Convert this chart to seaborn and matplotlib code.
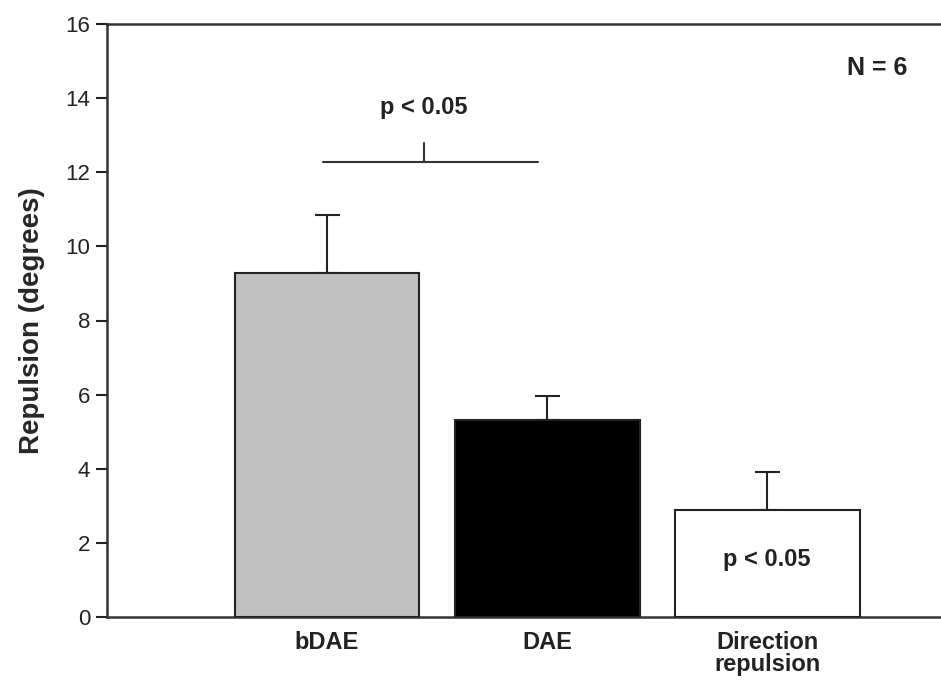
import numpy as np
import pandas as pd
import seaborn as sns
import matplotlib.pyplot as plt

# data
conditions = ["bDAE", "DAE", "Direction\nrepulsion"]
repulsion = [9.28, 5.32, 2.89]
sem = [1.57, 0.64, 1.02]
bar_colors = ["#c0c0c0", "#000000", "#ffffff"]

df = pd.DataFrame({"condition": conditions, "repulsion": repulsion})

sns.set_style("ticks")
plt.rcParams["font.family"] = ["Liberation Sans", "DejaVu Sans"]

fig = plt.figure(figsize=(9.41, 6.88), dpi=100)
ax = fig.add_axes([107 / 941, 1 - 617 / 688, 1 - 107 / 941, 593 / 688])

sns.barplot(data=df, x="condition", y="repulsion", hue="condition",
            palette=bar_colors, width=0.84, edgecolor="#222222",
            linewidth=1.5, legend=False, ax=ax, zorder=3)

# upper error bars only
ax.errorbar(np.arange(len(conditions)), repulsion,
            yerr=[np.zeros(len(sem)), sem], fmt="none",
            ecolor="#222222", elinewidth=1.5, capsize=9, capthick=1.5, zorder=2)

ax.set_xlim(-1.0, 2.79)
ax.set_ylim(0, 16)
ax.set_yticks(range(0, 17, 2))
ax.set_xlabel("")
ax.set_ylabel("Repulsion (degrees)", fontsize=20, fontweight="bold", labelpad=15)

ax.tick_params(axis="y", direction="out", length=8, width=1.5, labelsize=16,
               pad=4, colors="#222222")
ax.tick_params(axis="x", length=0, labelsize=17, pad=10, colors="#222222")
for lab in ax.get_xticklabels():
    lab.set_fontweight("bold")
    lab.set_linespacing(0.95)

for side in ["left", "top", "bottom"]:
    ax.spines[side].set_linewidth(1.8)
    ax.spines[side].set_color("#333333")
ax.spines["right"].set_visible(False)

# significance bracket between bDAE and DAE
ax.plot([-0.02, 0.96], [12.27, 12.27], color="#333333", lw=1.5, zorder=4)
ax.plot([0.44, 0.44], [12.27, 12.8], color="#333333", lw=1.5, zorder=4)
ax.text(0.44, 13.75, "p < 0.05", ha="center", va="center",
        fontsize=17, fontweight="bold", color="#222222")

ax.text(2.0, 1.55, "p < 0.05", ha="center", va="center",
        fontsize=17, fontweight="bold", color="#222222", zorder=5)
ax.text(2.5, 14.8, "N = 6", ha="center", va="center",
        fontsize=18, fontweight="bold", color="#222222")

fig.savefig("out.png", dpi=100)
